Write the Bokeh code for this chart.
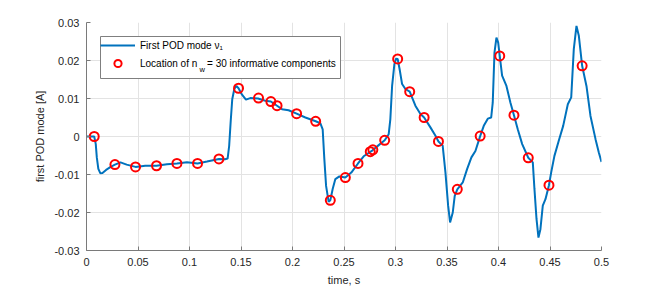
from bokeh.plotting import figure
from bokeh.models import FixedTicker, Label, BoxAnnotation
from bokeh.embed import file_html
from bokeh.resources import INLINE

# ---- data ----
time_s = [0.000, 0.004, 0.0075, 0.0090, 0.0100, 0.0115, 0.0135, 0.0155, 0.0190, 0.0235,
          0.0276, 0.0330, 0.0390, 0.0476, 0.0570, 0.0680, 0.0781, 0.0878, 0.0975, 0.1078,
          0.1170, 0.1286, 0.1345, 0.1370, 0.1385, 0.1400, 0.1415, 0.1435, 0.1455, 0.1476,
          0.1510, 0.1548, 0.1590, 0.1665, 0.1736, 0.1790, 0.1850, 0.1898, 0.1962, 0.2040,
          0.2125, 0.2225, 0.2270, 0.2293, 0.2309, 0.2326, 0.2351, 0.2367, 0.2390, 0.2416,
          0.2455, 0.2513, 0.2571, 0.2636, 0.2691, 0.2774, 0.2840, 0.2895, 0.2934, 0.2950,
          0.2967, 0.2989, 0.3006, 0.3021, 0.3040, 0.3064, 0.3096, 0.3138, 0.3193, 0.3242,
          0.3278, 0.3339, 0.3388, 0.3417, 0.3458, 0.3485, 0.3511, 0.3530, 0.3556, 0.3575,
          0.3600, 0.3653, 0.3695, 0.3737, 0.3776, 0.3822, 0.3857, 0.3896, 0.3929, 0.3944,
          0.3961, 0.3980, 0.3997, 0.4012, 0.4035, 0.4077, 0.4116, 0.4150, 0.4187, 0.4230,
          0.4289, 0.4333, 0.4349, 0.4369, 0.4388, 0.4407, 0.4430, 0.4456, 0.4490, 0.4511,
          0.4543, 0.4585, 0.4628, 0.4673, 0.4706, 0.4731, 0.4757, 0.4780, 0.4812, 0.4854,
          0.4893, 0.4942, 0.4974, 0.5000]
pod_mode = [0.0000, 0.0000, 0.0000, -0.0020, -0.0055, -0.0085, -0.0097, -0.0096, -0.0088, -0.0080,
            -0.0074, -0.0068, -0.0074, -0.0080, -0.0077, -0.0077, -0.0073, -0.0071, -0.0068, -0.0071,
            -0.0066, -0.0059, -0.0060, -0.0058, -0.0025, 0.0040, 0.0098, 0.0125, 0.0133, 0.0127,
            0.0110, 0.0097, 0.0101, 0.0100, 0.0094, 0.0092, 0.0081, 0.0072, 0.0069, 0.0060,
            0.0050, 0.0040, 0.0035, 0.0019, -0.0059, -0.0130, -0.0172, -0.0168, -0.0138, -0.0112,
            -0.0105, -0.0108, -0.0095, -0.0071, -0.0052, -0.0037, -0.0022, -0.0010, 0.0006, 0.0046,
            0.0133, 0.0190, 0.0205, 0.0204, 0.0177, 0.0138, 0.0125, 0.0118, 0.0081, 0.0059,
            0.0050, 0.0024, 0.0002, -0.0013, -0.0024, -0.0095, -0.0182, -0.0226, -0.0200, -0.0156,
            -0.0139, -0.0121, -0.0086, -0.0055, -0.0038, 0.0001, 0.0028, 0.0047, 0.0050, 0.0089,
            0.0221, 0.0260, 0.0247, 0.0212, 0.0160, 0.0133, 0.0089, 0.0056, 0.0019, -0.0020,
            -0.0056, -0.0068, -0.0138, -0.0217, -0.0266, -0.0244, -0.0182, -0.0165, -0.0128, -0.0095,
            -0.0051, -0.0011, 0.0028, 0.0085, 0.0103, 0.0230, 0.0291, 0.0265, 0.0186, 0.0133,
            0.0054, -0.0007, -0.0042, -0.0067]

marker_t = [0.0075, 0.0276, 0.0476, 0.0680, 0.0878, 0.1078, 0.1286, 0.1476, 0.1670, 0.1790,
            0.1850, 0.2040, 0.2225, 0.2367, 0.2513, 0.2636, 0.2755, 0.2780, 0.2895, 0.3021,
            0.3138, 0.3278, 0.3417, 0.3600, 0.3822, 0.4012, 0.4150, 0.4289, 0.4490, 0.4812]
marker_v = [0.0000, -0.0074, -0.0080, -0.0077, -0.0071, -0.0071, -0.0059, 0.0127, 0.0101, 0.0092,
            0.0081, 0.0060, 0.0040, -0.0168, -0.0108, -0.0071, -0.0040, -0.0035, -0.0010, 0.0204,
            0.0118, 0.0050, -0.0013, -0.0139, 0.0001, 0.0212, 0.0056, -0.0056, -0.0128, 0.0186]

x_ticks = [0, 0.05, 0.1, 0.15, 0.2, 0.25, 0.3, 0.35, 0.4, 0.45, 0.5]
x_tick_labels = ["0", "0.05", "0.1", "0.15", "0.2", "0.25", "0.3", "0.35", "0.4", "0.45", "0.5"]
y_ticks = [-0.03, -0.02, -0.01, 0, 0.01, 0.02, 0.03]
y_tick_labels = ["-0.03", "-0.02", "-0.01", "0", "0.01", "0.02", "0.03"]

line_label = "First POD mode \u03bd\u2081"
marker_label = "Location of n\u2002\u2009 = 30 informative components"

FONT = "Liberation Sans"
TXT = "#262626"
AX = "#7a7a7a"

p = figure(width=656, height=288, x_range=(0, 0.5), y_range=(-0.03, 0.03),
           output_backend="svg", toolbar_location=None,
           min_border_left=86, min_border_right=55, min_border_top=22, min_border_bottom=38)
p.outline_line_color = None
p.background_fill_color = "white"
p.border_fill_color = "white"

# legend frame (white box with grey border), drawn beneath the transparent legend
legend_box = BoxAnnotation(left=14, right=254, top=214, bottom=172,
                           left_units="screen", right_units="screen",
                           top_units="screen", bottom_units="screen",
                           fill_color="white", fill_alpha=1.0,
                           line_color="#7f7f7f", line_width=1, line_alpha=1.0)
p.add_layout(legend_box)

p.line(time_s, pod_mode, line_color="#0072BD", line_width=2, legend_label=line_label)
p.scatter(marker_t, marker_v, marker="circle", size=9, line_color="red", line_width=2,
          fill_color=None, legend_label=marker_label)

for ax, ticks, labels in ((p.xaxis, x_ticks, x_tick_labels), (p.yaxis, y_ticks, y_tick_labels)):
    ax.ticker = FixedTicker(ticks=ticks)
    ax.major_label_overrides = {t: l for t, l in zip(ticks, labels)}
    ax.axis_line_color = AX
    ax.major_tick_line_color = AX
    ax.minor_tick_line_color = None
    ax.major_tick_in = 4
    ax.major_tick_out = 0
    ax.major_label_text_font = FONT
    ax.major_label_text_font_size = "11px"
    ax.major_label_text_color = TXT
    ax.axis_label_text_font = FONT
    ax.axis_label_text_font_size = "11px"
    ax.axis_label_text_font_style = "normal"
    ax.axis_label_text_color = TXT

p.xaxis.axis_label = "time, s"
p.yaxis.axis_label = "first POD mode [A]"
p.xaxis.major_label_standoff = 7
p.xaxis.axis_label_standoff = 5
p.yaxis.major_label_standoff = 7
p.yaxis.axis_label_standoff = 5

p.xgrid.ticker = FixedTicker(ticks=x_ticks)
p.ygrid.ticker = FixedTicker(ticks=y_ticks)
p.grid.grid_line_color = "#e3e3e3"
p.grid.grid_line_width = 1

lg = p.legend[0]
lg.location = "top_left"
lg.margin = 14
lg.padding = 2
lg.spacing = 0
lg.glyph_width = 35
lg.glyph_height = 18
lg.label_height = 16
lg.label_standoff = 5
lg.border_line_color = None
lg.background_fill_alpha = 0
lg.label_text_font = FONT
lg.label_text_font_size = "10px"
lg.label_text_color = "black"

# subscript "w" of n_w in the legend label
sub = Label(x=113.0, y=181.5, x_units="screen", y_units="screen", text="w",
            text_font=FONT, text_font_size="7.5px", text_color="black",
            text_baseline="middle", text_align="left")
p.add_layout(sub)

open("out.html", "w").write(file_html(p, INLINE))
